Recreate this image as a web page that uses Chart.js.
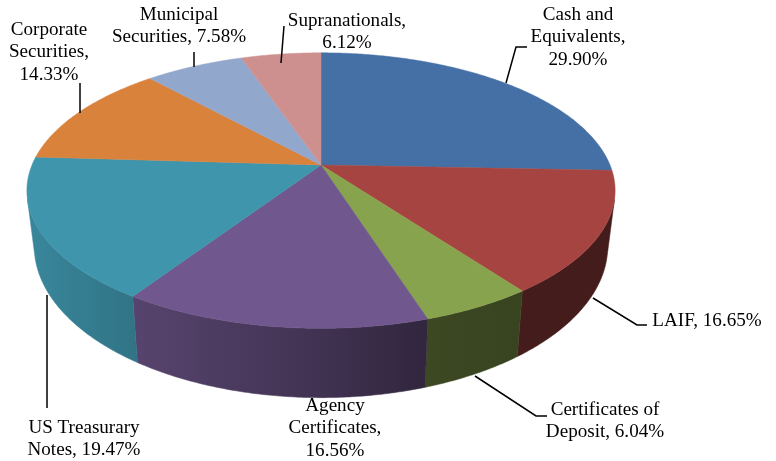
<!DOCTYPE html>
<html>
<head>
<meta charset="utf-8">
<title>Portfolio</title>
<script src="https://cdn.jsdelivr.net/npm/chart.js@4"></script>
<style>
  html, body { margin: 0; padding: 0; background: #fff; }
  canvas { display: block; }
</style>
</head>
<body>
<canvas id="pieChart" width="776" height="461"></canvas>
<script>
// Data
const categories = ["Cash and Equivalents", "LAIF", "Certificates of Deposit", "Agency Certificates", "US Treasurary Notes", "Corporate Securities", "Municipal Securities", "Supranationals"];
const values = [29.90, 16.65, 6.04, 16.56, 19.47, 14.33, 7.58, 6.12];
const colors = ["#4470A5", "#A64442", "#88A34D", "#70578D", "#3F95AC", "#D8823C", "#92A7CC", "#CE908F"];
// Label text as wrapped in the picture, {v} is the slice value
const labelLines = [
    ["Cash and", "Equivalents,", "{v}"],
    ["LAIF, {v}"],
    ["Certificates of", "Deposit, {v}"],
    ["Agency", "Certificates,", "{v}"],
    ["US Treasurary", "Notes, {v}"],
    ["Corporate", "Securities,", "{v}"],
    ["Municipal", "Securities, {v}"],
    ["Supranationals,", "{v}"]
];

// Where the labels and leader lines sit
const labelPos = [[578, 15], [707, 321], [605, 410], [335, 406], [84, 428], [49, 30], [179, 15], [347, 21]];
const leaders = [
    [[527, 47], [516, 47], [506, 83]],
    [[593, 298], [637, 325], [647, 325]],
    [[475, 376], [536, 416], [547, 416]],
    [],
    [[47, 295], [47, 408]],
    [[80, 83], [80, 113]],
    [[194, 52], [194, 67]],
    [[284, 26], [281, 63]]
];

// Perspective of the tilted pie: apex, half axes and tilt
const cx = 321, cy = 165, ax = 289, by = 133, tilt = 0.1856;
const rimDrop = 53, rimScaleX = 0.975, rimScaleY = 1.1;
const step = Math.PI / 360;

function topPoint(angle) {
    const w = 1 - tilt * Math.sin(angle);
    return [cx + ax * Math.cos(angle) / w, cy + by * Math.sin(angle) / w];
}

function rimPoint(angle) {
    const p = topPoint(angle);
    return [cx + (p[0] - cx) * rimScaleX, cy + rimDrop + (p[1] - cy) * rimScaleY];
}

// True when the wall between angles a and b faces the viewer
function facesUs(a, b) {
    const q = [topPoint(a), topPoint(b), rimPoint(b), rimPoint(a)];
    let area = 0;
    q.forEach((p, k) => {
        const n = q[(k + 1) % 4];
        area += p[0] * n[1] - n[0] * p[1];
    });
    return area < 0;
}

// Side wall gets darker from left to right
const shadeStops = [[30, 0.9], [135, 0.78], [300, 0.6], [420, 0.45], [520, 0.41], [620, 0.41]];
function wallGradient(ctx, hex) {
    const n = parseInt(hex.slice(1), 16);
    const g = ctx.createLinearGradient(30, 0, 620, 0);
    shadeStops.forEach(s => {
        const f = s[1];
        g.addColorStop((s[0] - 30) / 590, `rgb(${Math.round((n >> 16) * f)},${Math.round(((n >> 8) & 255) * f)},${Math.round((n & 255) * f)})`);
    });
    return g;
}

const pie3d = {
    id: 'pie3d',
    // The library works out the slice angles, the picture is drawn from them here
    beforeDatasetDraw(chart) {
        const ctx = chart.ctx;
        const arcs = chart.getDatasetMeta(0).data;

        // side wall, one polygon per slice for the part that faces us
        arcs.forEach((arc, i) => {
            const angles = [];
            for (let a = arc.startAngle; a < arc.endAngle; a += step) {
                const b = Math.min(a + step, arc.endAngle);
                if (facesUs(a, b)) {
                    if (!angles.length) angles.push(a);
                    angles.push(b);
                }
            }
            if (!angles.length) return;
            ctx.beginPath();
            angles.forEach((a, k) => {
                const p = topPoint(a);
                k ? ctx.lineTo(p[0], p[1]) : ctx.moveTo(p[0], p[1]);
            });
            angles.slice().reverse().forEach(a => {
                const p = rimPoint(a);
                ctx.lineTo(p[0], p[1]);
            });
            ctx.closePath();
            const wall = wallGradient(ctx, colors[i]);
            ctx.fillStyle = wall;
            ctx.strokeStyle = wall;
            ctx.lineWidth = 0.5;
            ctx.fill();
            ctx.stroke();
        });

        // top face
        arcs.forEach((arc, i) => {
            ctx.beginPath();
            ctx.moveTo(cx, cy);
            for (let a = arc.startAngle; a < arc.endAngle; a += step) {
                const p = topPoint(a);
                ctx.lineTo(p[0], p[1]);
            }
            const end = topPoint(arc.endAngle);
            ctx.lineTo(end[0], end[1]);
            ctx.closePath();
            ctx.fillStyle = colors[i];
            ctx.strokeStyle = colors[i];
            ctx.lineWidth = 0.5;
            ctx.fill();
            ctx.stroke();
        });
        return false;
    },
    afterDraw(chart) {
        const ctx = chart.ctx;
        ctx.strokeStyle = '#000';
        ctx.lineWidth = 1.5;
        leaders.forEach(line => {
            if (!line.length) return;
            ctx.beginPath();
            line.forEach((p, i) => i ? ctx.lineTo(p[0], p[1]) : ctx.moveTo(p[0], p[1]));
            ctx.stroke();
        });

        ctx.fillStyle = '#000';
        ctx.font = '19.1px "Liberation Serif"';
        ctx.textAlign = 'center';
        ctx.textBaseline = 'middle';
        labelLines.forEach((lines, i) => {
            lines.forEach((text, j) => {
                ctx.fillText(text.replace('{v}', values[i].toFixed(2) + '%'), labelPos[i][0], labelPos[i][1] + j * 22.3);
            });
        });
    }
};

new Chart(document.getElementById('pieChart').getContext('2d'), {
    type: 'pie',
    data: {
        labels: categories,
        datasets: [{ data: values, backgroundColor: colors, borderWidth: 0 }]
    },
    options: {
        responsive: false,
        animation: false,
        plugins: { legend: { display: false }, tooltip: { enabled: false } }
    },
    plugins: [pie3d]
});
</script>
</body>
</html>
